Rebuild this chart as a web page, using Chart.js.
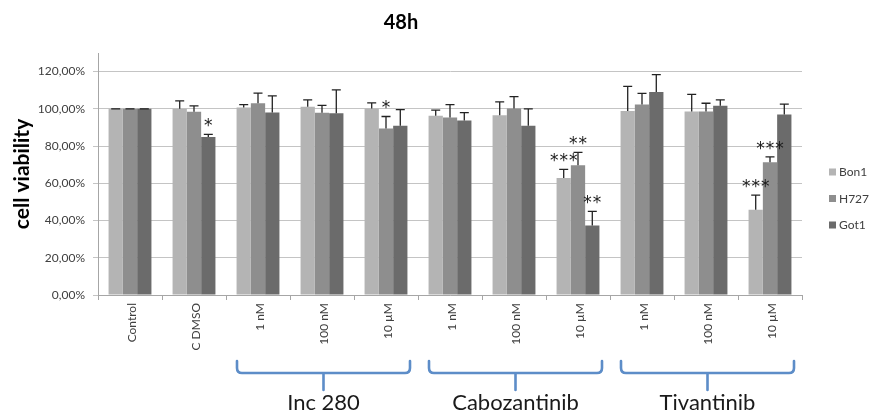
<!DOCTYPE html>
<html>
<head>
<meta charset="utf-8">
<script src="https://cdn.jsdelivr.net/npm/chart.js@4/dist/chart.umd.min.js"></script>
<style>
  html, body { margin: 0; padding: 0; background: #ffffff; }
  #wrap { width: 874px; height: 417px; }
</style>
</head>
<body>
<div id="wrap"><canvas id="c" width="874" height="417"></canvas></div>
<script>
// Cell viability after 48 h, relative to control
const categories = ['Control', 'C DMSO', '1 nM', '100 nM', '10 µM', '1 nM', '100 nM', '10 µM', '1 nM', '100 nM', '10 µM'];
const seriesNames = ['Bon1', 'H727', 'Got1'];

const bon1 = [100, 100, 100.7, 101.1, 100.2, 96.3, 96.6, 62.9, 98.9, 98.6, 45.8];
const h727 = [100, 98.4, 103.0, 97.9, 89.5, 95.4, 100.2, 69.7, 102.3, 98.6, 71.3];
const got1 = [100, 84.9, 98.0, 97.7, 90.9, 93.8, 90.9, 37.3, 109.1, 101.6, 96.9];

// upper standard deviation
const bon1Err = [0, 4.3, 1.6, 3.7, 3.0, 3.0, 7.1, 4.6, 13.2, 9.2, 7.8];
const h727Err = [0, 3.2, 5.4, 4.0, 6.4, 6.9, 6.4, 6.9, 6.0, 4.4, 2.9];
const got1Err = [0, 1.4, 9.0, 12.5, 8.7, 4.2, 9.1, 7.6, 9.3, 3.2, 5.6];

// significance marks
const bon1Sig = ['', '', '', '', '', '', '', '***', '', '', '***'];
const h727Sig = ['', '', '', '', '*', '', '', '**', '', '', '***'];
const got1Sig = ['', '*', '', '', '', '', '', '**', '', '', ''];

// drug groups under the axis
const groupNames = ['Inc 280', 'Cabozantinib', 'Tivantinib'];
const groupFirst = [2, 5, 8];
const groupLast = [4, 7, 10];

const yTicks = [0, 20, 40, 60, 80, 100, 120];

const colors = ['#b4b4b4', '#8e8e8e', '#6b6b6b'];
const values = [bon1, h727, got1];
const errors = [bon1Err, h727Err, got1Err];
const marks = [bon1Sig, h727Sig, got1Sig];

const FONT = 'Lato, "Open Sans", sans-serif';
Chart.defaults.font.family = FONT;

const extras = {
  id: 'extras',
  afterDatasetsDraw(chart) {
    const ctx = chart.ctx;
    const y = chart.scales.y;
    ctx.save();
    chart.data.datasets.forEach((ds, i) => {
      const meta = chart.getDatasetMeta(i);
      meta.data.forEach((bar, j) => {
        const top = y.getPixelForValue(ds.data[j] + errors[i][j]);
        // error whisker with cap
        ctx.strokeStyle = '#222222';
        ctx.lineWidth = 1.3;
        ctx.beginPath();
        ctx.moveTo(bar.x, bar.y);
        ctx.lineTo(bar.x, top);
        ctx.moveTo(bar.x - 4.5, top);
        ctx.lineTo(bar.x + 4.5, top);
        ctx.stroke();
        // asterisks
        const s = marks[i][j];
        if (s) {
          ctx.fillStyle = '#1a1a1a';
          ctx.font = '17px "DejaVu Sans", sans-serif';
          ctx.textAlign = 'center';
          ctx.textBaseline = 'alphabetic';
          const step = 9.5;
          const start = bar.x - (s.length - 1) * step / 2;
          for (let k = 0; k < s.length; k++) {
            ctx.fillText('*', start + k * step, top - 3);
          }
        }
      });
    });
    ctx.restore();
  },
  afterDraw(chart) {
    const ctx = chart.ctx;
    const x = chart.scales.x;
    const area = chart.chartArea;
    ctx.save();

    // legend
    chart.data.datasets.forEach((ds, i) => {
      const cy = 172 + i * 26.5;
      ctx.fillStyle = ds.backgroundColor;
      ctx.fillRect(829, cy - 3.5, 7, 7);
      ctx.fillStyle = '#404040';
      ctx.font = '12px ' + FONT;
      ctx.textAlign = 'left';
      ctx.textBaseline = 'middle';
      ctx.fillText(ds.label, 839, cy + 0.5);
    });

    // group brackets
    const yTop = area.bottom + 66;
    const yLine = area.bottom + 78;
    const yStem = area.bottom + 95;
    ctx.strokeStyle = '#5d8dc8';
    ctx.lineWidth = 2.6;
    ctx.lineCap = 'round';
    ctx.lineJoin = 'round';
    groupNames.forEach((name, g) => {
      const left = x.getPixelForValue(groupFirst[g]) - 21;
      const right = x.getPixelForValue(groupLast[g]) + 24;
      const mid = (left + right) / 2;
      ctx.beginPath();
      ctx.moveTo(left, yTop);
      ctx.lineTo(left, yLine - 5);
      ctx.quadraticCurveTo(left, yLine, left + 5, yLine);
      ctx.lineTo(right - 5, yLine);
      ctx.quadraticCurveTo(right, yLine, right, yLine - 5);
      ctx.lineTo(right, yTop);
      ctx.moveTo(mid, yLine);
      ctx.lineTo(mid, yStem);
      ctx.stroke();

      ctx.fillStyle = '#1a1a1a';
      ctx.font = '22px ' + FONT;
      ctx.textAlign = 'center';
      ctx.textBaseline = 'middle';
      ctx.fillText(name, mid, area.bottom + 108);
    });
    ctx.restore();
  }
};

new Chart(document.getElementById('c'), {
  type: 'bar',
  data: {
    labels: categories,
    datasets: seriesNames.map((name, i) => ({
      label: name,
      data: values[i],
      backgroundColor: colors[i],
      borderWidth: 0,
      categoryPercentage: 0.67,
      barPercentage: 1.0
    }))
  },
  options: {
    responsive: false,
    animation: false,
    devicePixelRatio: 1,
    layout: { padding: { left: 0, right: 72, top: 0, bottom: 62 } },
    plugins: {
      legend: { display: false },
      tooltip: { enabled: false },
      title: {
        display: true,
        text: '48h',
        color: '#000000',
        font: { size: 20, weight: 'bold', family: FONT },
        padding: { top: 11, bottom: 18 }
      }
    },
    scales: {
      x: {
        grid: {
          drawOnChartArea: false,
          tickLength: 5,
          color: '#a6a6a6'
        },
        border: { color: '#a6a6a6' },
        ticks: {
          minRotation: 90,
          maxRotation: 90,
          padding: 3,
          labelOffset: 2,
          color: '#404040',
          font: { size: 12, family: FONT }
        },
        afterFit(scale) { scale.height = 60; }
      },
      y: {
        min: 0,
        max: 130,
        grid: { color: '#c4c4c4', tickLength: 5 },
        border: { color: '#a6a6a6' },
        ticks: {
          stepSize: 20,
          padding: 8,
          color: '#404040',
          font: { size: 12, family: FONT },
          callback: v => v.toFixed(2).replace('.', ',') + '%'
        },
        afterBuildTicks(scale) {
          scale.ticks = yTicks.map(v => ({ value: v }));
        },
        title: {
          display: true,
          text: 'cell viability',
          color: '#000000',
          font: { size: 21, weight: 'bold', family: FONT },
          padding: { top: 10, bottom: 0 }
        },
        afterFit(scale) { scale.width = 98; }
      }
    }
  },
  plugins: [extras]
});
</script>
</body>
</html>
